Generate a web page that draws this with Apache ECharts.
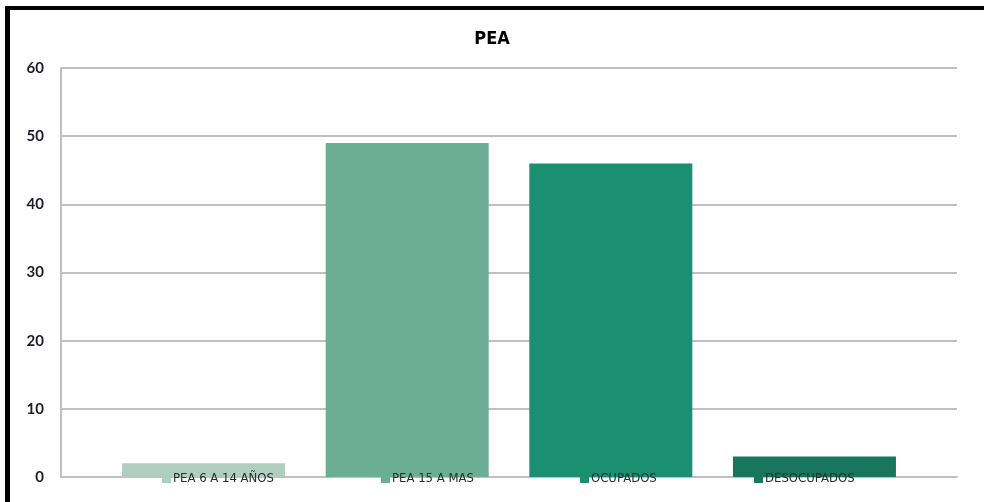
<!DOCTYPE html>
<html>
<head>
<meta charset="utf-8">
<script src="https://cdn.jsdelivr.net/npm/echarts@6/dist/echarts.min.js"></script>
<style>
html,body{margin:0;padding:0;background:#fff;}
#chart{width:984px;height:502px;}
</style>
</head>
<body>
<div id="chart"></div>
<script>
const categories = ['PEA 6 A 14 AÑOS', 'PEA 15 A MAS', 'OCUPADOS', 'DESOCUPADOS'];
const values = [2, 49, 46, 3];
const yTicks = [0, 10, 20, 30, 40, 50, 60];
const palette = ['#afcebf', '#6bae95', '#1b8f72', '#17765c'];

const chart = echarts.init(document.getElementById('chart'), null, {renderer: 'canvas'});

const series = categories.map((name, i) => ({
  name: name,
  type: 'bar',
  barWidth: 163,
  barGap: '-100%',
  itemStyle: {color: palette[i]},
  data: [[i, values[i]]],
  z: 2
}));

const condensed = 'DejaVu Sans Condensed, Liberation Sans Narrow, sans-serif';
const legendLefts = [162, 381, 580, 754];

const legends = categories.map((name, i) => ({
  data: [name],
  left: legendLefts[i],
  top: 472,
  icon: 'rect',
  itemWidth: 9,
  itemHeight: 9,
  padding: 0,
  z: 5,
  textStyle: {fontFamily: condensed, fontSize: 13, color: '#2b2b2b', padding: [0, 0, 0, -3]}
}));

const option = {
  animation: false,
  backgroundColor: '#fff',
  title: {
    text: 'PEA',
    left: 'center',
    top: 25,
    textStyle: {fontFamily: condensed, fontWeight: 'bold', fontSize: 18, color: '#000'}
  },
  grid: {left: 61, right: 27, top: 68, bottom: 25, containLabel: false},
  legend: legends,
  xAxis: {
    type: 'value',
    min: -0.7,
    max: 3.7,
    axisLine: {show: true, onZero: false, lineStyle: {color: '#c0c0c0', width: 2}},
    axisTick: {show: false},
    axisLabel: {show: false},
    splitLine: {show: false}
  },
  yAxis: {
    type: 'value',
    min: yTicks[0],
    max: yTicks[yTicks.length - 1],
    interval: 10,
    axisLine: {show: true, onZero: false, lineStyle: {color: '#c0c0c0', width: 2}},
    axisTick: {show: false},
    axisLabel: {margin: 17, fontFamily: 'Lato, sans-serif', fontWeight: 'bold', fontSize: 15, color: '#1c1c2c'},
    splitLine: {show: true, lineStyle: {color: '#c0c0c0', width: 2}}
  },
  graphic: [
    {type: 'rect', left: 5, top: 6, shape: {width: 979, height: 4}, style: {fill: '#000'}, z: 10},
    {type: 'rect', left: 5, top: 6, shape: {width: 5, height: 496}, style: {fill: '#000'}, z: 10}
  ],
  series: series
};
chart.setOption(option);
</script>
</body>
</html>
